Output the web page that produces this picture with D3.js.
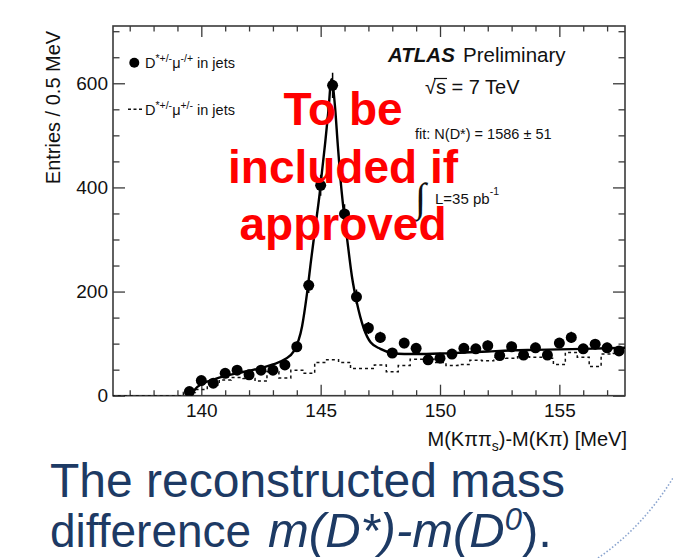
<!DOCTYPE html>
<html>
<head>
<meta charset="utf-8">
<script src="https://cdn.jsdelivr.net/npm/d3@7"></script>
<style>
  html, body { margin: 0; padding: 0; background: #ffffff; }
  svg { display: block; font-family: "Liberation Sans", Arial, Helvetica, sans-serif; }
  text { white-space: pre; }
</style>
</head>
<body>
<svg id="chart" width="673" height="558"></svg>
<script>
// ---------- DATA ----------
// bin centres (MeV), 0.5 MeV bins
const binCenters = [139.5,140,140.5,141,141.5,142,142.5,143,143.5,144,
  144.5,145,145.5,146,146.5,147,147.5,148,148.5,149,
  149.5,150,150.5,151,151.5,152,152.5,153,153.5,154,
  154.5,155,155.5,156,156.5,157,157.5];
// D*+/- mu-/+ in jets (points)
const oppositeSign = [8,29,24,43,49,40,49,49,59,94,
  212,404,596,349,190,130,112,82,101,91,
  69,72,80,91,90,96,77,94,78,92,
  78,101,112,90,99,92,86];
// D*+/- mu+/- in jets (dotted histogram), bins 136.5 ... 157.5
const sameSignCenters = [136.5,137,137.5,138,138.5,139].concat(binCenters);
const sameSign = [0,0,0,0,0,0,
  6,12,20,30,35,33,28,46,34,49,
  43,64,69,64,52,52,59,46,58,70,
  70,64,58,60,68,67,74,72,75,74,
  72,60,83,74,56,80,81];
// fit curve
const fitX = [139.57,139.75,140,140.5,141,141.5,142,142.5,143,143.5,143.87,144.22,144.43,144.6,
  144.78,144.96,145.05,145.19,145.33,145.45,145.61,145.71,145.82,145.96,146.13,146.31,146.52,
  146.8,147.1,147.5,148,148.5,149,150,151,152,153,154,155,156,157,157.75];
const fitY = [0,13,22,31,38,43,48,53,60,70,85,133,197,261,
  325,389,428,486,550,608,550,486,421,357,293,229,178,
  130,102,90,82,80,80,81,83,85,87,88,89,90,91,92];
// axis ticks
const xMajorTicks = [140,145,150,155];
const xMinorTicks = [137,138,139,141,142,143,144,146,147,148,149,151,152,153,154,156,157];
const yMajorTicks = [0,200,400,600];
const yMinorTicks = [50,100,150,250,300,350,450,500,550,650,700];
const xDomain = [136.3, 157.75];
const yDomain = [0, 710];
const binHalfWidth = 0.25;

// ---------- LAYOUT ----------
const svg = d3.select("#chart");
const L = 113, R = 625, T = 26, B = 395.7;
const x = d3.scaleLinear().domain(xDomain).range([L, R]);
const y = d3.scaleLinear().domain(yDomain).range([B, T]);
const axisColor = "#3a3a3a";

svg.append("defs").append("clipPath").attr("id","plotclip")
  .append("rect").attr("x",L).attr("y",T).attr("width",R-L).attr("height",B-T);

// ---------- AXES ----------
const fontTick = 19;
const gx = svg.append("g").attr("transform",`translate(0,${B})`)
  .call(d3.axisBottom(x).tickValues(xMajorTicks).tickSize(-11).tickPadding(8).tickFormat(d3.format("d")));
const gxm = svg.append("g").attr("transform",`translate(0,${B})`)
  .call(d3.axisBottom(x).tickValues(xMinorTicks).tickSize(-5.5).tickFormat(""));
const gxt = svg.append("g").attr("transform",`translate(0,${T})`)
  .call(d3.axisTop(x).tickValues(xMajorTicks).tickSize(-11).tickFormat(""));
const gxtm = svg.append("g").attr("transform",`translate(0,${T})`)
  .call(d3.axisTop(x).tickValues(xMinorTicks).tickSize(-5.5).tickFormat(""));
const gy = svg.append("g").attr("transform",`translate(${L},0)`)
  .call(d3.axisLeft(y).tickValues(yMajorTicks).tickSize(-12).tickPadding(5).tickFormat(d3.format("d")));
const gym = svg.append("g").attr("transform",`translate(${L},0)`)
  .call(d3.axisLeft(y).tickValues(yMinorTicks).tickSize(-6.5).tickFormat(""));
const gyr = svg.append("g").attr("transform",`translate(${R},0)`)
  .call(d3.axisRight(y).tickValues(yMajorTicks).tickSize(-12).tickFormat(""));
const gyrm = svg.append("g").attr("transform",`translate(${R},0)`)
  .call(d3.axisRight(y).tickValues(yMinorTicks).tickSize(-6.5).tickFormat(""));

[gx,gxm,gxt,gxtm,gy,gym,gyr,gyrm].forEach(g => {
  g.select(".domain").remove();
  g.selectAll(".tick line").attr("stroke",axisColor).attr("stroke-width",1.3);
  g.selectAll(".tick text").attr("fill","#111").style("font-size",fontTick+"px")
    .style("font-family","'Liberation Sans', Arial, sans-serif");
});

svg.append("rect").attr("x",L).attr("y",T).attr("width",R-L).attr("height",B-T)
  .attr("fill","none").attr("stroke",axisColor).attr("stroke-width",1.6);

// axis titles
svg.append("text")
  .attr("transform",`translate(60,${(28+187)/2}) rotate(-90)`)
  .attr("text-anchor","middle").style("font-size","20px").attr("fill","#111")
  .text("Entries / 0.5 MeV");

const xt = svg.append("text").attr("x",627).attr("y",446).attr("text-anchor","end")
  .style("font-size","20px").attr("fill","#111");
xt.append("tspan").text("M(Kππ");
xt.append("tspan").attr("dy",5).style("font-size","14px").text("s");
xt.append("tspan").attr("dy",-5).text(")-M(Kπ) [MeV]");

// ---------- PLOT CONTENT ----------
const plot = svg.append("g").attr("clip-path","url(#plotclip)");

// dotted same-sign histogram
const stepPts = [];
sameSignCenters.forEach((c,i) => {
  stepPts.push([c-binHalfWidth, sameSign[i]]);
  stepPts.push([c+binHalfWidth, sameSign[i]]);
});
plot.append("path").datum(stepPts)
  .attr("fill","none").attr("stroke","#111").attr("stroke-width",1.5)
  .attr("stroke-dasharray","3,3")
  .attr("d", d3.line().x(d=>x(d[0])).y(d=>y(d[1])));

// fit curve
const fitPts = fitX.map((v,i)=>[v,fitY[i]]);
plot.append("path").datum(fitPts)
  .attr("fill","none").attr("stroke","#000").attr("stroke-width",2.4)
  .attr("d", d3.line().x(d=>x(d[0])).y(d=>y(d[1])).curve(d3.curveMonotoneX));

// error bars + points
const pts = binCenters.map((c,i)=>({c, v: oppositeSign[i]}));
plot.selectAll("line.err").data(pts).enter().append("line")
  .attr("class","err")
  .attr("x1",d=>x(d.c)).attr("x2",d=>x(d.c))
  .attr("y1",d=>y(d.v+Math.sqrt(d.v))).attr("y2",d=>y(Math.max(0,d.v-Math.sqrt(d.v))))
  .attr("stroke","#000").attr("stroke-width",1.5);
plot.selectAll("circle.pt").data(pts).enter().append("circle")
  .attr("class","pt")
  .attr("cx",d=>x(d.c)).attr("cy",d=>y(d.v)).attr("r",5.5).attr("fill","#000");

// ---------- LEGEND ----------
function legendText(yb, sup1, sup2) {
  const t = svg.append("text").attr("x",145).attr("y",yb).style("font-size","14.5px").attr("fill","#111");
  t.append("tspan").text("D");
  t.append("tspan").attr("dy",-6).style("font-size","10.5px").text(sup1);
  t.append("tspan").attr("dy",6).text("μ");
  t.append("tspan").attr("dy",-6).style("font-size","10.5px").text(sup2);
  t.append("tspan").attr("dy",6).text(" in jets");
}
svg.append("circle").attr("cx",134.3).attr("cy",62.7).attr("r",5).attr("fill","#000");
legendText(67.5, "*+/-", "-/+");
svg.append("line").attr("x1",128).attr("x2",143).attr("y1",109.3).attr("y2",109.3)
  .attr("stroke","#111").attr("stroke-width",1.5).attr("stroke-dasharray","3,2.5");
legendText(114.5, "*+/-", "+/-");

// ---------- LABELS ----------
svg.append("text").attr("x",388).attr("y",62)
  .style("font-size","20.5px").style("font-weight","bold").style("font-style","italic")
  .attr("fill","#111").text("ATLAS");
svg.append("text").attr("x",463).attr("y",62)
  .style("font-size","20.5px").attr("fill","#111").text("Preliminary");

const sq = svg.append("text").attr("x",425).attr("y",94)
  .style("font-size","20px").attr("fill","#111").text("√s = 7 TeV");
// overline on the s of sqrt(s)
{
  const node = sq.node();
  const e0 = node.getExtentOfChar(0), e1 = node.getExtentOfChar(1);
  svg.append("line")
    .attr("x1", e0.x + e0.width*0.82).attr("x2", e1.x + e1.width + 1)
    .attr("y1", 94 - 15.5).attr("y2", 94 - 15.5)
    .attr("stroke","#111").attr("stroke-width",1.2);
}

svg.append("text").attr("x",415).attr("y",138.5)
  .style("font-size","14.5px").attr("fill","#111").text("fit: N(D*) = 1586 ± 51");

svg.append("text").attr("x",415).attr("y",211)
  .style("font-size","40px").style("font-family","'DejaVu Sans'").attr("fill","#111")
  .style("font-weight","200").text("∫");
const lumi = svg.append("text").attr("x",435).attr("y",203.5)
  .style("font-size","15px").attr("fill","#111");
lumi.append("tspan").text("L=35 pb");
lumi.append("tspan").attr("dy",-9).style("font-size","10.5px").text("-1");

// watermark
const wm = svg.append("g").attr("fill","#ff0000").style("font-weight","bold").style("font-size","46px");
[["To be",125],["included if",183],["approved",240]].forEach(([s,yy]) => {
  wm.append("text").attr("x",343).attr("y",yy).attr("text-anchor","middle").text(s);
});

// ---------- SLIDE TEXT ----------
const navy = "#1d3a64";
svg.append("text").attr("x",50).attr("y",497).style("font-size","48px").attr("fill",navy)
  .text("The reconstructed mass");
const l2 = svg.append("text").attr("x",50).attr("y",547).style("font-size","46px").attr("fill",navy);
l2.append("tspan").text("difference");
l2.append("tspan").attr("x",268).style("font-size","49px").style("font-style","italic").text("m(D*)-m(D");
l2.append("tspan").attr("dy",-17).style("font-size","31px").style("font-style","italic").text("0");
l2.append("tspan").attr("dy",17).style("font-size","49px").text(").");

// decorative dotted arc
svg.append("path").attr("d","M598,558 Q642,528 673,478")
  .attr("fill","none").attr("stroke","#8aa4cf").attr("stroke-width",1.6)
  .attr("stroke-dasharray","1.5,2");
</script>
</body>
</html>
